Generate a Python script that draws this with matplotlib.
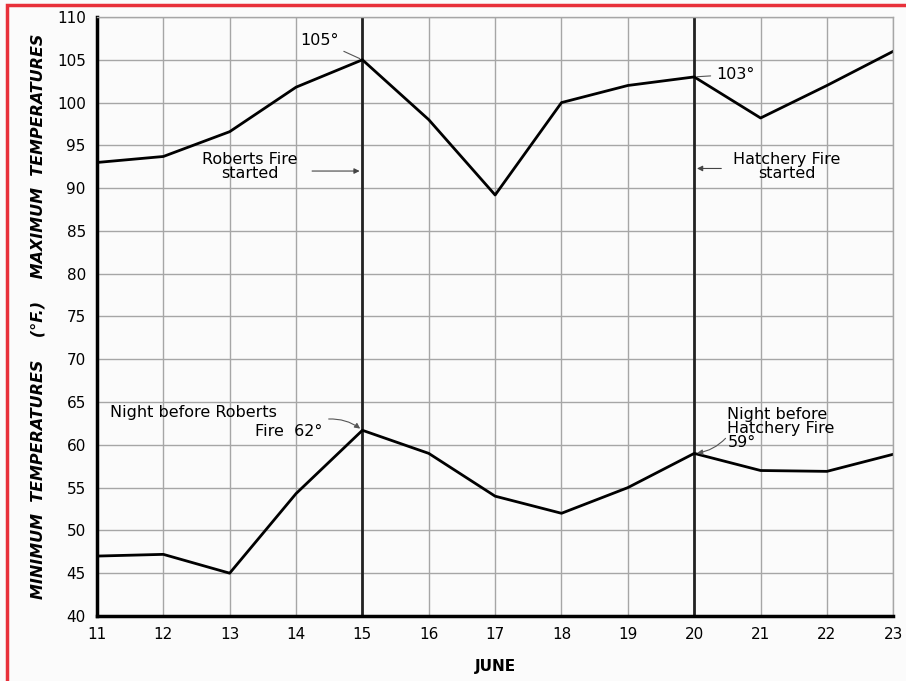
import matplotlib
matplotlib.use("Agg")
import matplotlib.pyplot as plt
from matplotlib.patches import Rectangle

days = [11, 12, 13, 14, 15, 16, 17, 18, 19, 20, 21, 22, 23]
max_temps = [93, 93.7, 96.6, 101.8, 105, 98, 89.2, 100, 102, 103, 98.2, 102, 106]
min_temps = [47, 47.2, 45, 54.3, 61.7, 59, 54, 52, 55, 59, 57, 56.9, 58.9]
y_ticks = [40, 45, 50, 55, 60, 65, 70, 75, 80, 85, 90, 95, 100, 105, 110]
fire_days = [15, 20]

plt.rcParams['font.family'] = ['DejaVu Sans']

fig = plt.figure(figsize=(9.06, 6.81), dpi=100)
fig.patch.set_facecolor('#fbfbfb')
ax = fig.add_axes([0.107, 0.0955, 0.879, 0.8795])
ax.set_facecolor('#fbfbfb')

ax.set_xlim(11, 23)
ax.set_ylim(40, 110)
ax.set_xticks(days)
ax.set_yticks(y_ticks)
ax.set_xticklabels([str(d) for d in days], fontsize=11)
ax.set_yticklabels([str(v) for v in y_ticks], fontsize=11)
ax.tick_params(length=0, pad=8)
ax.grid(True, color='#a6a6a6', linewidth=1.0)
ax.set_axisbelow(True)

for s in ['top', 'right']:
    ax.spines[s].set_color('#a6a6a6')
    ax.spines[s].set_linewidth(1.0)
for s in ['left', 'bottom']:
    ax.spines[s].set_color('black')
    ax.spines[s].set_linewidth(2.5)

for d in fire_days:
    ax.axvline(d, color='#222222', linewidth=2)

ax.plot(days, max_temps, color='black', linewidth=2)
ax.plot(days, min_temps, color='black', linewidth=2)

ax.set_xlabel('JUNE', fontsize=11, fontweight='bold', labelpad=12)
ax.set_ylabel('MINIMUM  TEMPERATURES    (°F.)    MAXIMUM  TEMPERATURES',
              fontsize=11.5, fontweight='bold', fontstyle='italic', labelpad=8)

fs = 11.5
thin = dict(arrowstyle='-', color='#555555', linewidth=0.8)
ax.annotate('105°', xy=(15, 105), xytext=(14.35, 107.3), fontsize=fs,
            ha='center', va='center', arrowprops=thin)
ax.annotate('103°', xy=(20, 103), xytext=(20.62, 103.3), fontsize=fs,
            ha='center', va='center', arrowprops=thin)

ax.text(13.3, 92.5, 'Roberts Fire\nstarted', fontsize=fs, ha='center', va='center',
        linespacing=0.95)
ax.annotate('', xy=(15, 92.0), xytext=(14.2, 92.0),
            arrowprops=dict(arrowstyle='-|>', color='#444444', linewidth=0.8, mutation_scale=8))

ax.text(21.4, 92.5, 'Hatchery Fire\nstarted', fontsize=fs, ha='center', va='center',
        linespacing=0.95)
ax.annotate('', xy=(20, 92.3), xytext=(20.45, 92.3),
            arrowprops=dict(arrowstyle='-|>', color='#444444', linewidth=0.8, mutation_scale=8))

ax.text(11.2, 63.8, 'Night before Roberts', fontsize=fs, ha='left', va='center')
ax.text(14.4, 61.6, 'Fire  62°', fontsize=fs, ha='right', va='center')
ax.annotate('', xy=(15, 61.7), xytext=(14.45, 63.0),
            arrowprops=dict(arrowstyle='-|>', color='#555555', linewidth=0.8,
                            mutation_scale=8, connectionstyle='arc3,rad=-0.2'))

ax.text(20.5, 61.9, 'Night before\nHatchery Fire\n59°', fontsize=fs, ha='left', va='center',
        linespacing=0.95)
ax.annotate('', xy=(20, 59), xytext=(20.5, 61.0),
            arrowprops=dict(arrowstyle='-|>', color='#555555', linewidth=0.8,
                            mutation_scale=8, connectionstyle='arc3,rad=-0.2'))

# red frame around the picture
fig.patches.append(Rectangle((7 / 906, -0.05), 1.05, 0.05 + 1 - 5 / 681,
                             transform=fig.transFigure, fill=False,
                             edgecolor='#e8303a', linewidth=2.5))

fig.savefig('out.png', dpi=100, facecolor=fig.get_facecolor())
